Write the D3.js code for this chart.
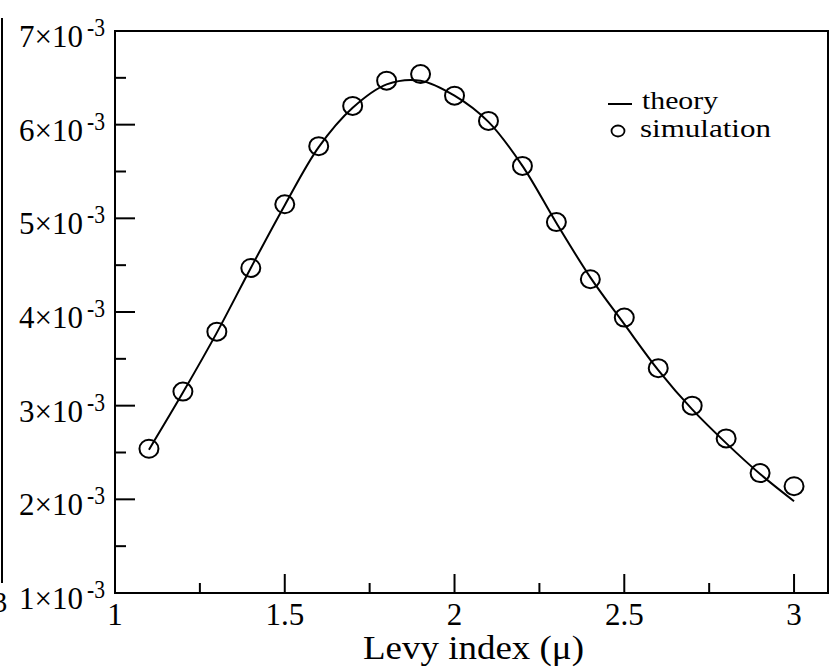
<!DOCTYPE html>
<html>
<head>
<meta charset="utf-8">
<script src="https://cdn.jsdelivr.net/npm/d3@7"></script>
<style>
  html, body { margin: 0; padding: 0; background: #fff; }
  svg { display: block; font-family: 'Liberation Serif', 'DejaVu Serif', serif; }
</style>
</head>
<body>
<svg id="chart" width="829" height="667"></svg>
<script>
// values in units of 1e-3
const muSim = [1.1, 1.2, 1.3, 1.4, 1.5, 1.6, 1.7, 1.8, 1.9, 2.0, 2.1, 2.2, 2.3, 2.4, 2.5, 2.6, 2.7, 2.8, 2.9, 3.0];
const simValues = [2.54, 3.15, 3.79, 4.47, 5.15, 5.77, 6.20, 6.47, 6.54, 6.31, 6.04, 5.56, 4.96, 4.35, 3.94, 3.40, 3.00, 2.65, 2.28, 2.14];
const muTheory = [1.1, 1.2, 1.3, 1.4, 1.5, 1.6, 1.7, 1.8, 1.9, 2.0, 2.1, 2.2, 2.3, 2.4, 2.5, 2.6, 2.7, 2.8, 2.9, 3.0];
const theoryValues = [2.53, 3.14, 3.78, 4.47, 5.14, 5.76, 6.18, 6.43, 6.47, 6.31, 6.03, 5.56, 4.95, 4.37, 3.87, 3.38, 2.96, 2.60, 2.27, 1.98];
const xTicks = [1, 1.5, 2, 2.5, 3];
const xMinor = [1.25, 1.75, 2.25, 2.75];
const yTicks = [1, 2, 3, 4, 5, 6, 7];
const yMinor = [1.5, 2.5, 3.5, 4.5, 5.5, 6.5];

const svg = d3.select('#chart');
const margin = { left: 115, right: 828, top: 31, bottom: 593 };

const x = d3.scaleLinear().domain([1, 3.1]).range([margin.left, margin.right]);
const y = d3.scaleLinear().domain([1, 7]).range([margin.bottom, margin.top]);

// edge of neighbouring panel
svg.append('line')
  .attr('x1', 2).attr('x2', 2).attr('y1', 18).attr('y2', 583)
  .attr('stroke', '#000').attr('stroke-width', 2);
svg.append('text')
  .attr('x', 0).attr('y', 612)
  .attr('text-anchor', 'middle')
  .attr('font-size', 29)
  .text('3');

// frame
svg.append('rect')
  .attr('x', margin.left).attr('y', margin.top)
  .attr('width', margin.right - margin.left).attr('height', margin.bottom - margin.top)
  .attr('fill', 'none').attr('stroke', '#000').attr('stroke-width', 2);

// x ticks
svg.append('g')
  .selectAll('line')
  .data(xTicks.map((d) => ({ v: d, len: 19 })).concat(xMinor.map((d) => ({ v: d, len: 10 }))))
  .enter()
  .append('line')
  .attr('x1', (d) => x(d.v)).attr('x2', (d) => x(d.v))
  .attr('y1', margin.bottom).attr('y2', (d) => margin.bottom - d.len)
  .attr('stroke', '#000').attr('stroke-width', 2);

svg.append('g')
  .selectAll('text')
  .data(xTicks)
  .enter()
  .append('text')
  .attr('x', (d) => x(d))
  .attr('y', margin.bottom + 32)
  .attr('text-anchor', 'middle')
  .attr('font-size', 31)
  .text((d) => d);

// y ticks
svg.append('g')
  .selectAll('line')
  .data(yTicks.map((d) => ({ v: d, len: 20 })).concat(yMinor.map((d) => ({ v: d, len: 11 }))))
  .enter()
  .append('line')
  .attr('x1', margin.left).attr('x2', (d) => margin.left + d.len)
  .attr('y1', (d) => y(d.v)).attr('y2', (d) => y(d.v))
  .attr('stroke', '#000').attr('stroke-width', 2);

const yLab = svg.append('g');
yLab.selectAll('text.mant')
  .data(yTicks)
  .enter()
  .append('text')
  .attr('class', 'mant')
  .attr('x', 83)
  .attr('y', (d) => y(d) + 16)
  .attr('text-anchor', 'end')
  .attr('font-size', 32)
  .attr('textLength', 64)
  .attr('lengthAdjust', 'spacingAndGlyphs')
  .text((d) => d + '\u00d710');
yLab.selectAll('text.exp')
  .data(yTicks)
  .enter()
  .append('text')
  .attr('class', 'exp')
  .attr('x', 87)
  .attr('y', (d) => y(d) + 5)
  .attr('font-size', 25)
  .attr('textLength', 18)
  .attr('lengthAdjust', 'spacingAndGlyphs')
  .text('-3');

// axis title
svg.append('text')
  .attr('x', 363)
  .attr('y', 659)
  .attr('font-size', 33)
  .attr('textLength', 221)
  .attr('lengthAdjust', 'spacingAndGlyphs')
  .text('Levy index (\u03bc)');

// theory curve
const theory = muTheory.map((m, i) => ({ mu: m, v: theoryValues[i] }));
const line = d3.line()
  .x((d) => x(d.mu))
  .y((d) => y(d.v))
  .curve(d3.curveCatmullRom);
svg.append('path')
  .datum(theory)
  .attr('fill', 'none')
  .attr('stroke', '#000')
  .attr('stroke-width', 2)
  .attr('d', line);

// simulation points
svg.append('g')
  .selectAll('ellipse')
  .data(muSim.map((m, i) => ({ mu: m, v: simValues[i] })))
  .enter()
  .append('ellipse')
  .attr('cx', (d) => x(d.mu))
  .attr('cy', (d) => y(d.v))
  .attr('rx', 9.5).attr('ry', 9)
  .attr('fill', 'none')
  .attr('stroke', '#000')
  .attr('stroke-width', 2);

// legend
const legend = svg.append('g');
legend.append('line')
  .attr('x1', 608).attr('x2', 632).attr('y1', 104).attr('y2', 104)
  .attr('stroke', '#000').attr('stroke-width', 2);
legend.append('text')
  .attr('x', 642).attr('y', 109)
  .attr('font-size', 26)
  .attr('textLength', 76)
  .attr('lengthAdjust', 'spacingAndGlyphs')
  .text('theory');
legend.append('ellipse')
  .attr('cx', 618).attr('cy', 131)
  .attr('rx', 6.5).attr('ry', 5.5)
  .attr('fill', 'none').attr('stroke', '#000').attr('stroke-width', 1.8);
legend.append('text')
  .attr('x', 640).attr('y', 137)
  .attr('font-size', 26)
  .attr('textLength', 131)
  .attr('lengthAdjust', 'spacingAndGlyphs')
  .text('simulation');
</script>
</body>
</html>
